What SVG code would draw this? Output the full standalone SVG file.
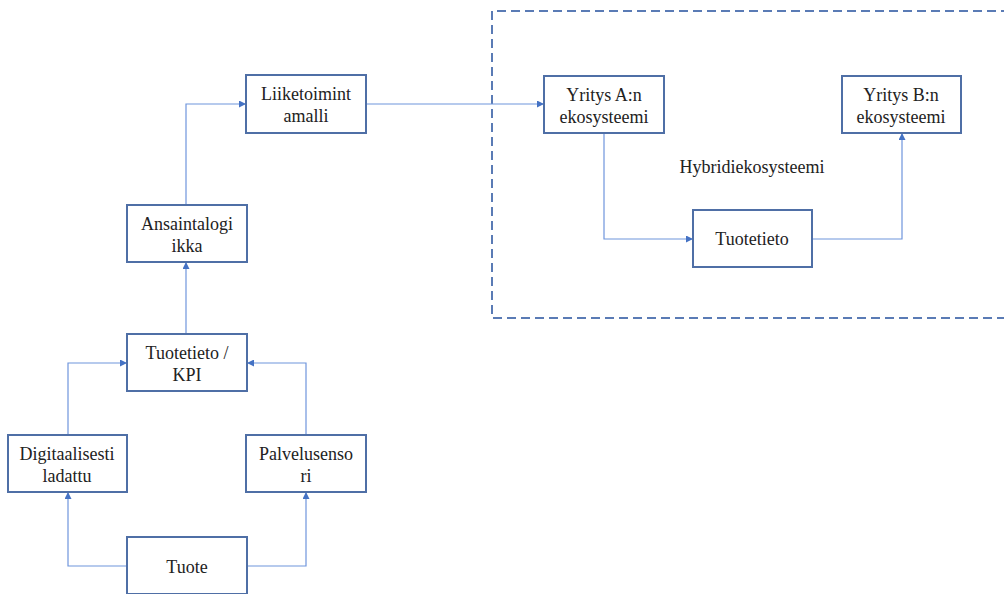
<svg xmlns="http://www.w3.org/2000/svg" width="1004" height="594" viewBox="0 0 1004 594">
<style>
.box{fill:#fff;stroke:#4f6fa6;stroke-width:2}
.t{font-size:18px;fill:#222;text-anchor:middle}
.c{fill:none;stroke:#6f95dc;stroke-width:1.2}
</style>
<defs>
<marker id="ah" viewBox="0 0 10 10" refX="10" refY="5" markerWidth="7" markerHeight="7" markerUnits="userSpaceOnUse" orient="auto">
<path d="M0,0 L10,5 L0,10 z" fill="#4472c4"/>
</marker>
</defs>
<rect width="1004" height="594" fill="#fff"/>
<g font-family="Liberation Serif, Times New Roman, serif">
<g id="hybrid">
<path d="M1010,11 H492 V318 H1010" fill="none" stroke="#5a7bb5" stroke-width="2" stroke-dasharray="9,5"/>
<text class="t" x="752" y="173">Hybridiekosysteemi</text>
</g>
<g id="connectors">
<path class="c" d="M127,566 H68 V492" marker-end="url(#ah)"/>
<path class="c" d="M247,566 H306 V492" marker-end="url(#ah)"/>
<path class="c" d="M68,435 V363 H127" marker-end="url(#ah)"/>
<path class="c" d="M306,435 V363 H247" marker-end="url(#ah)"/>
<path class="c" d="M186,334 V262" marker-end="url(#ah)"/>
<path class="c" d="M186,205 V104 H246" marker-end="url(#ah)"/>
<path class="c" d="M366,104 H544" marker-end="url(#ah)"/>
<path class="c" d="M604,133 V239 H693" marker-end="url(#ah)"/>
<path class="c" d="M812,239 H902 V133" marker-end="url(#ah)"/>
</g>
<g id="liiketoimintamalli">
<rect class="box" x="246" y="75" width="120" height="58"/>
<text class="t" x="306" y="100">Liiketoimint</text>
<text class="t" x="306" y="122">amalli</text>
</g>
<g id="ansaintalogiikka">
<rect class="box" x="127" y="205" width="120" height="57"/>
<text class="t" x="187" y="230">Ansaintalogi</text>
<text class="t" x="187" y="252">ikka</text>
</g>
<g id="tuotetieto-kpi">
<rect class="box" x="127" y="334" width="120" height="57"/>
<text class="t" x="187" y="359">Tuotetieto /</text>
<text class="t" x="187" y="381">KPI</text>
</g>
<g id="digitaalisesti">
<rect class="box" x="8" y="435" width="119" height="57"/>
<text class="t" x="67" y="460">Digitaalisesti</text>
<text class="t" x="67" y="482">ladattu</text>
</g>
<g id="palvelusensori">
<rect class="box" x="246" y="435" width="120" height="57"/>
<text class="t" x="306" y="460">Palvelusenso</text>
<text class="t" x="306" y="482">ri</text>
</g>
<g id="tuote">
<rect class="box" x="127" y="537" width="120" height="57"/>
<text class="t" x="187" y="573">Tuote</text>
</g>
<g id="yritys-a">
<rect class="box" x="544" y="76" width="120" height="57"/>
<text class="t" x="604" y="101">Yritys A:n</text>
<text class="t" x="604" y="123">ekosysteemi</text>
</g>
<g id="yritys-b">
<rect class="box" x="842" y="76" width="119" height="57"/>
<text class="t" x="901" y="101">Yritys B:n</text>
<text class="t" x="901" y="123">ekosysteemi</text>
</g>
<g id="tuotetieto">
<rect class="box" x="693" y="210" width="119" height="57"/>
<text class="t" x="752" y="245">Tuotetieto</text>
</g>
</g>
</svg>
